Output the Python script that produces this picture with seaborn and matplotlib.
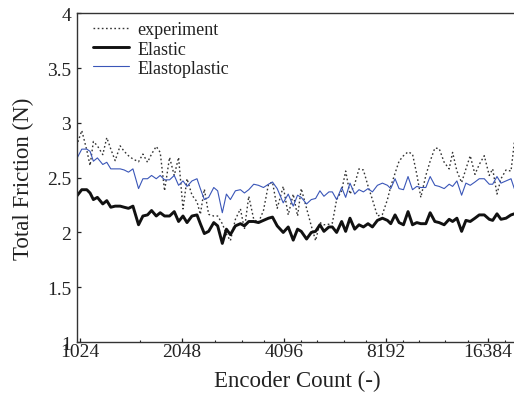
import numpy as np
import pandas as pd
import matplotlib
matplotlib.use("Agg")
import matplotlib.pyplot as plt
from matplotlib.ticker import FixedLocator, NullFormatter, FixedFormatter
import seaborn as sns

# Encoder resolution (counts per revolution) for each simulated / measured run
encoder_count = [
    1000, 1036, 1072, 1096, 1121, 1152, 1195, 1228, 1262,
    1300, 1345, 1382, 1423, 1467, 1524, 1570, 1620, 1665, 1719, 1766,
    1819, 1882, 1943, 2001, 2062, 2119, 2192, 2268, 2320, 2384, 2455,
    2542, 2610, 2694, 2770, 2846, 2945, 3047, 3131, 3225, 3336,
    3445, 3564, 3688, 3790, 3913, 4077, 4218, 4364, 4494, 4608,
    4778, 4934, 5081, 5232, 5377, 5563, 5693, 5862, 6066, 6233,
    6419, 6628, 6825, 7033, 7256, 7477, 7736, 8004, 8282,
    8470, 8722, 8963, 9236, 9527, 9821, 10112, 10393, 10753,
    11073, 11433, 11773, 12181, 12602, 12899, 13282, 13715, 14123,
    14543, 15016, 15462, 15999, 16552, 16940, 17444, 17926, 18549, 19191, 19627,
]

friction_experiment = [
    2.79, 2.93, 2.75, 2.61, 2.83, 2.79, 2.71, 2.865, 2.76,
    2.655, 2.79, 2.74, 2.70, 2.67, 2.645, 2.715, 2.64, 2.715, 2.785, 2.73,
    2.38, 2.685, 2.52, 2.685, 2.215, 2.49, 2.34, 2.28, 2.165, 2.395, 2.165,
    2.15, 2.15, 2.08, 1.985, 1.925, 2.12, 2.215, 2.03, 2.33, 2.12,
    2.09, 2.20, 2.44, 2.46, 2.22, 2.42, 2.16, 2.35, 2.15, 2.40,
    2.22, 2.06, 1.925, 2.09, 2.07, 2.075, 2.085, 2.30, 2.38, 2.56,
    2.35, 2.44, 2.58, 2.57, 2.425, 2.30, 2.15, 2.165, 2.30,
    2.42, 2.54, 2.65, 2.70, 2.735, 2.715, 2.53, 2.32, 2.52,
    2.65, 2.77, 2.765, 2.64, 2.58, 2.73, 2.56, 2.455, 2.58,
    2.70, 2.53, 2.62, 2.70, 2.52, 2.58, 2.35, 2.49, 2.57, 2.56, 2.82,
]

friction_elastic = [
    2.33, 2.39, 2.39, 2.36, 2.30, 2.32, 2.26, 2.29, 2.23,
    2.24, 2.24, 2.23, 2.22, 2.24, 2.07, 2.15, 2.16, 2.20, 2.15, 2.18,
    2.15, 2.15, 2.19, 2.10, 2.15, 2.09, 2.15, 2.16, 2.08, 1.99, 2.01,
    2.09, 2.06, 1.90, 2.03, 1.98, 2.06, 2.08, 2.06, 2.10, 2.10,
    2.09, 2.11, 2.13, 2.14, 2.06, 2.00, 2.05, 1.93, 2.03, 2.01,
    1.94, 2.00, 2.01, 2.07, 2.01, 2.05, 2.05, 2.00, 2.10, 2.01,
    2.13, 2.03, 2.07, 2.05, 2.08, 2.05, 2.11, 2.13, 2.11,
    2.08, 2.16, 2.09, 2.07, 2.19, 2.07, 2.09, 2.08, 2.08,
    2.18, 2.10, 2.09, 2.07, 2.12, 2.10, 2.13, 2.01, 2.11,
    2.10, 2.13, 2.16, 2.16, 2.12, 2.11, 2.17, 2.12, 2.13, 2.16, 2.17,
]

friction_elastoplastic = [
    2.67, 2.76, 2.76, 2.74, 2.65, 2.68, 2.62, 2.64, 2.58,
    2.58, 2.58, 2.57, 2.55, 2.58, 2.40, 2.49, 2.49, 2.52, 2.49, 2.52,
    2.48, 2.48, 2.52, 2.43, 2.47, 2.42, 2.47, 2.49, 2.40, 2.30, 2.32,
    2.41, 2.38, 2.18, 2.35, 2.30, 2.38, 2.39, 2.36, 2.39, 2.44,
    2.43, 2.41, 2.44, 2.46, 2.40, 2.27, 2.35, 2.24, 2.34, 2.32,
    2.26, 2.30, 2.31, 2.38, 2.33, 2.37, 2.37, 2.30, 2.41, 2.32,
    2.45, 2.35, 2.39, 2.37, 2.40, 2.37, 2.43, 2.45, 2.43,
    2.40, 2.49, 2.40, 2.39, 2.51, 2.39, 2.42, 2.41, 2.41,
    2.51, 2.43, 2.42, 2.40, 2.44, 2.42, 2.47, 2.34, 2.45,
    2.43, 2.46, 2.49, 2.49, 2.44, 2.44, 2.51, 2.45, 2.47, 2.49, 2.40,
]

x_major = [1024, 2048, 4096, 8192, 16384]
x_major_labels = ["1024", "2048", "4096", "8192", "16384"]
x_minor = [1536, 2560, 3072, 3584, 4608, 5120, 6144, 7168, 9216, 10240, 12288, 14336, 18432]
y_ticks = [1, 1.5, 2, 2.5, 3, 3.5, 4]
y_tick_labels = ["1", "1.5", "2", "2.5", "3", "3.5", "4"]

df = pd.DataFrame({
    "count": encoder_count,
    "experiment": friction_experiment,
    "Elastic": friction_elastic,
    "Elastoplastic": friction_elastoplastic,
})

sns.set_style("ticks")
plt.rcParams["font.family"] = ["Liberation Serif", "DejaVu Serif"]
plt.rcParams["axes.edgecolor"] = "#333333"
plt.rcParams["axes.linewidth"] = 1.0

fig = plt.figure(figsize=(5.14, 4.06), dpi=100)
ax = fig.add_axes([0.149, 0.155, 0.857, 0.81])

sns.lineplot(data=df, x="count", y="experiment", ax=ax, color="#333333",
             linewidth=1.0, linestyle=(0, (1.2, 1.8)), label="experiment",
             estimator=None, sort=False)
sns.lineplot(data=df, x="count", y="Elastic", ax=ax, color="#111111",
             linewidth=2.1, label="Elastic", estimator=None, sort=False)
sns.lineplot(data=df, x="count", y="Elastoplastic", ax=ax, color="#3a56b8",
             linewidth=0.8, label="Elastoplastic", estimator=None, sort=False)

ax.set_xscale("log", base=2)
ax.set_xlim(1000, 20000)
ax.set_ylim(1, 4)
ax.xaxis.set_major_locator(FixedLocator(x_major))
ax.xaxis.set_major_formatter(FixedFormatter(x_major_labels))
ax.xaxis.set_minor_locator(FixedLocator(x_minor))
ax.xaxis.set_minor_formatter(NullFormatter())
ax.yaxis.set_major_locator(FixedLocator(y_ticks))
ax.yaxis.set_major_formatter(FixedFormatter(y_tick_labels))
ax.yaxis.set_minor_locator(FixedLocator([]))

ax.tick_params(axis="both", which="both", direction="in", top=False, right=False,
               colors="#222222", labelsize=14)
ax.tick_params(axis="both", which="major", length=3, width=0.9)
ax.tick_params(axis="both", which="minor", length=1.6, width=0.8)
ax.tick_params(axis="x", which="major", pad=1)
ax.tick_params(axis="y", which="major", pad=4)

for side in ["left", "bottom", "top"]:
    ax.spines[side].set_visible(True)
    ax.spines[side].set_linewidth(1.0)
ax.spines["right"].set_visible(False)

ax.set_xlabel("Encoder Count (-)", fontsize=16.5, labelpad=7, color="#222222")
ax.set_ylabel("Total Friction (N)", fontsize=16.5, labelpad=9, color="#222222")

leg = ax.legend(loc="upper left", bbox_to_anchor=(0.038, 0.975), frameon=False,
                fontsize=13, handlelength=2.0, handletextpad=0.45,
                labelspacing=0.12, borderaxespad=0, borderpad=0)
for txt in leg.get_texts():
    txt.set_color("#222222")

fig.savefig("out.png", dpi=100)
